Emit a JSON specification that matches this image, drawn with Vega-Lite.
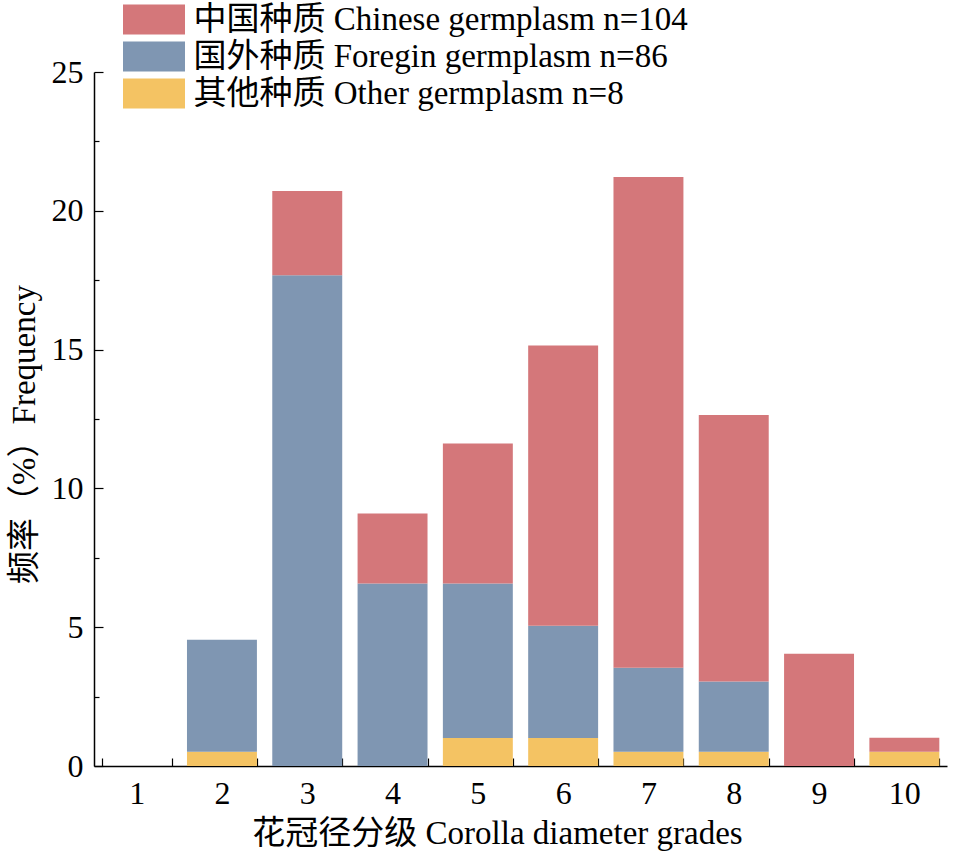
{
  "$schema": "https://vega.github.io/schema/vega-lite/v6.json",
  "autosize": {"type": "none"},
  "padding": {"left": 94, "top": 72, "right": 10, "bottom": 93},
  "width": 853,
  "height": 694,
  "background": "white",
  "config": {
    "view": {"stroke": null},
    "font": "Liberation Serif, Noto Sans CJK SC",
    "axis": {
      "labelFont": "Liberation Serif, Noto Sans CJK SC",
      "titleFont": "Liberation Serif, Noto Sans CJK SC",
      "labelColor": "black",
      "titleColor": "black",
      "domainColor": "black",
      "tickColor": "black",
      "labelFontSize": 32,
      "titleFontSize": 33,
      "titleFontWeight": "normal",
      "domainWidth": 1.5,
      "tickWidth": 1.2,
      "grid": false
    }
  },
  "data": {
    "values": [
      {"grade": "1", "group": "中国种质 Chinese germplasm n=104", "ord": 3, "value": 0},
      {"grade": "2", "group": "其他种质 Other germplasm n=8", "ord": 1, "value": 0.51},
      {"grade": "2", "group": "国外种质 Foregin germplasm n=86", "ord": 2, "value": 4.04},
      {"grade": "3", "group": "国外种质 Foregin germplasm n=86", "ord": 2, "value": 17.68},
      {"grade": "3", "group": "中国种质 Chinese germplasm n=104", "ord": 3, "value": 3.03},
      {"grade": "4", "group": "国外种质 Foregin germplasm n=86", "ord": 2, "value": 6.57},
      {"grade": "4", "group": "中国种质 Chinese germplasm n=104", "ord": 3, "value": 2.53},
      {"grade": "5", "group": "其他种质 Other germplasm n=8", "ord": 1, "value": 1.01},
      {"grade": "5", "group": "国外种质 Foregin germplasm n=86", "ord": 2, "value": 5.56},
      {"grade": "5", "group": "中国种质 Chinese germplasm n=104", "ord": 3, "value": 5.05},
      {"grade": "6", "group": "其他种质 Other germplasm n=8", "ord": 1, "value": 1.01},
      {"grade": "6", "group": "国外种质 Foregin germplasm n=86", "ord": 2, "value": 4.04},
      {"grade": "6", "group": "中国种质 Chinese germplasm n=104", "ord": 3, "value": 10.10},
      {"grade": "7", "group": "其他种质 Other germplasm n=8", "ord": 1, "value": 0.51},
      {"grade": "7", "group": "国外种质 Foregin germplasm n=86", "ord": 2, "value": 3.03},
      {"grade": "7", "group": "中国种质 Chinese germplasm n=104", "ord": 3, "value": 17.68},
      {"grade": "8", "group": "其他种质 Other germplasm n=8", "ord": 1, "value": 0.51},
      {"grade": "8", "group": "国外种质 Foregin germplasm n=86", "ord": 2, "value": 2.53},
      {"grade": "8", "group": "中国种质 Chinese germplasm n=104", "ord": 3, "value": 9.60},
      {"grade": "9", "group": "中国种质 Chinese germplasm n=104", "ord": 3, "value": 4.04},
      {"grade": "10", "group": "其他种质 Other germplasm n=8", "ord": 1, "value": 0.51},
      {"grade": "10", "group": "中国种质 Chinese germplasm n=104", "ord": 3, "value": 0.51}
    ]
  },
  "mark": {"type": "bar"},
  "encoding": {
    "x": {
      "field": "grade",
      "type": "ordinal",
      "sort": ["1", "2", "3", "4", "5", "6", "7", "8", "9", "10"],
      "scale": {"paddingInner": 0.18, "paddingOuter": 0.09},
      "axis": {
        "title": "花冠径分级 Corolla diameter grades",
        "labelAngle": 0,
        "tickBand": "extent",
        "tickSize": -8,
        "labelPadding": 20,
        "titlePadding": 8,
        "titleX": 403
      }
    },
    "y": {
      "field": "value",
      "type": "quantitative",
      "stack": "zero",
      "scale": {"domain": [0, 25], "nice": false},
      "axis": {
        "title": "频率（%）Frequency",
        "values": [0, 2.5, 5, 7.5, 10, 12.5, 15, 17.5, 20, 22.5, 25],
        "labelExpr": "datum.value % 5 === 0 ? datum.label : ''",
        "tickSize": {"condition": {"test": "datum.value % 5 === 0", "value": -9}, "value": -5},
        "labelPadding": 20,
        "titlePadding": 10,
        "titleY": 362
      }
    },
    "color": {
      "field": "group",
      "type": "nominal",
      "scale": {
        "domain": ["中国种质 Chinese germplasm n=104", "国外种质 Foregin germplasm n=86", "其他种质 Other germplasm n=8"],
        "range": ["#D4777A", "#7F96B2", "#F4C363"]
      },
      "legend": {
        "title": null,
        "orient": "none",
        "legendX": 43.5,
        "legendY": -69,
        "symbolType": "M-2,-0.97H2V0.97H-2Z",
        "symbolSize": 961,
        "symbolStrokeWidth": 0,
        "symbolOpacity": 1,
        "labelFontSize": 33,
        "labelFont": "Liberation Serif, Noto Sans CJK SC",
        "labelColor": "black",
        "labelLimit": 800,
        "rowPadding": 3,
        "labelOffset": 23
      }
    },
    "order": {"field": "ord", "type": "quantitative"}
  }
}
